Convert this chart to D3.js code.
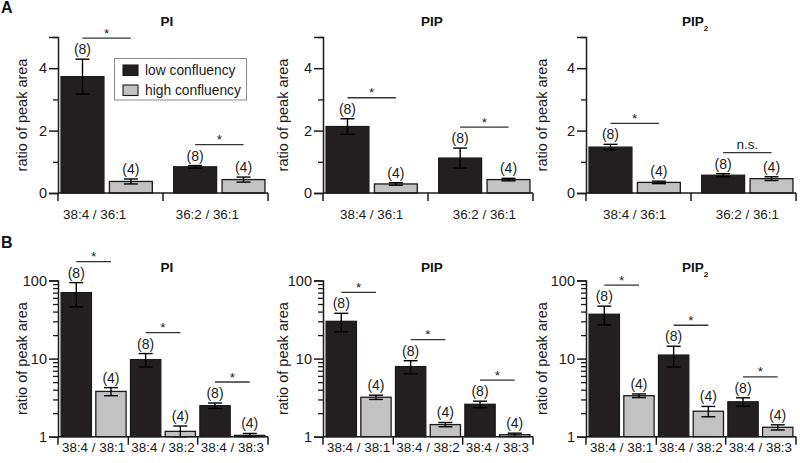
<!DOCTYPE html>
<html>
<head>
<meta charset="utf-8">
<script src="https://cdn.jsdelivr.net/npm/d3@7"></script>
<style>
  html,body{margin:0;padding:0;background:#fff;}
  svg{display:block;font-family:"Liberation Sans",Arial,Helvetica,sans-serif;}
</style>
</head>
<body>
<svg id="chart" width="800" height="463"></svg>
<script>
// ---------------- data ----------------
const panelTitles = ["PI", "PIP", "PIP2"];
const seriesNames = ["low confluency", "high confluency"];
const nLabels = ["(8)", "(4)"];

const categoriesA = ["38:4 / 36:1", "36:2 / 36:1"];
const categoriesB = ["38:4 / 38:1", "38:4 / 38:2", "38:4 / 38:3"];

// Panel A (linear) — mean and error, per lipid class
const lowA     = [[3.73, 0.84], [2.13, 1.12], [1.47, 0.57]];
const lowErrA  = [[0.56, 0.04], [0.25, 0.32], [0.09, 0.05]];
const highA    = [[0.37, 0.43], [0.29, 0.43], [0.34, 0.46]];
const highErrA = [[0.08, 0.08], [0.04, 0.04], [0.04, 0.06]];
const sigA     = [["*", "*"], ["*", "*"], ["*", "n.s."]];
const ticksA   = [0, 1, 2, 3, 4, 5];
const tickLabelsA = [0, 2, 4];

// Panel B (log)
const lowB     = [[70, 9.7, 2.5], [30, 7.9, 2.6], [37, 11.1, 2.8]];
const lowErrB  = [[24, 1.9, 0.2], [8, 1.5, 0.25], [10, 3.3, 0.35]];
const highB    = [[3.8, 1.17, 1.04], [3.2, 1.43, 1.06], [3.35, 2.12, 1.32]];
const highErrB = [[0.45, 0.2, 0.06], [0.2, 0.09, 0.05], [0.18, 0.32, 0.1]];
const sigB     = [["*", "*", "*"], ["*", "*", "*"], ["*", "*", "*"]];
const majorTicksB = [1, 10, 100];
const minorTicksB = [2,3,4,5,6,7,8,9,20,30,40,50,60,70,80,90];

// ---------------- layout / style ----------------
const svg = d3.select("#chart");
const colLeft = [58, 323, 586];
const plotW = 210;
const ylabOffset = [31, 35, 39];
const colors = ["#231f20", "#c2c2c2"];
const ink = "#1a1a1a";
const FONT = 14.5;
const XFONT = 13.4;

function drawPanel(opts) {
  const {col, top, bottom, y, cats, low, lowErr, high, highErr, sig,
         groupPadInner, groupPadOuter, subPad, titleY, xLabelY, xLabelShift, legend} = opts;
  const left = colLeft[col];
  const g = svg.append("g");

  const x0 = d3.scaleBand().domain(cats).range([left, left + plotW])
               .paddingInner(groupPadInner).paddingOuter(groupPadOuter);
  const x1 = d3.scaleBand().domain(seriesNames).range([0, x0.bandwidth()])
               .paddingInner(subPad).paddingOuter(0);

  const rows = [];
  cats.forEach((c, i) => {
    rows.push({cat: c, s: 0, v: low[i], e: lowErr[i]});
    rows.push({cat: c, s: 1, v: high[i], e: highErr[i]});
  });
  const bx = d => x0(d.cat) + x1(seriesNames[d.s]);
  const bc = d => bx(d) + x1.bandwidth() / 2;

  // bars
  g.selectAll("rect.bar").data(rows).join("rect")
    .attr("class", "bar")
    .attr("x", bx)
    .attr("width", x1.bandwidth())
    .attr("y", d => y(d.v))
    .attr("height", d => y.range()[0] - y(d.v))
    .attr("fill", d => colors[d.s])
    .attr("stroke", ink).attr("stroke-width", 1.3);

  // error bars
  const cap = 7;
  const eg = g.selectAll("g.err").data(rows).join("g").attr("class", "err")
    .attr("stroke", "#000").attr("stroke-width", 1.4);
  eg.append("line").attr("x1", bc).attr("x2", bc)
    .attr("y1", d => y(d.v - d.e)).attr("y2", d => y(d.v + d.e));
  eg.append("line").attr("x1", d => bc(d) - cap).attr("x2", d => bc(d) + cap)
    .attr("y1", d => y(d.v + d.e)).attr("y2", d => y(d.v + d.e));
  eg.append("line").attr("x1", d => bc(d) - cap).attr("x2", d => bc(d) + cap)
    .attr("y1", d => y(d.v - d.e)).attr("y2", d => y(d.v - d.e));

  // n labels
  g.selectAll("text.n").data(rows).join("text").attr("class", "n")
    .attr("x", bc).attr("y", d => y(d.v + d.e) - 5)
    .attr("text-anchor", "middle").attr("font-size", 14).attr("fill", ink)
    .text(d => nLabels[d.s]);

  // significance lines
  cats.forEach((c, i) => {
    const top1 = Math.max(low[i] + lowErr[i], high[i] + highErr[i]);
    const ly = y(top1) - 21;
    const xa = x0(c) + x1(seriesNames[0]) + x1.bandwidth() / 2;
    const xb = x0(c) + x1(seriesNames[1]) + x1.bandwidth() / 2;
    g.append("line").attr("x1", xa).attr("x2", xb).attr("y1", ly).attr("y2", ly)
      .attr("stroke", "#333").attr("stroke-width", 1.3);
    const isStar = sig[i] === "*";
    g.append("text").attr("x", (xa + xb) / 2).attr("y", isStar ? ly - 0.5 : ly - 3.5)
      .attr("text-anchor", "middle").attr("font-size", 13.5)
      .attr("fill", ink).text(sig[i]);
  });

  // x axis: baseline + separator ticks
  const y0 = y.range()[0];
  const seps = [left];
  cats.forEach((c, i) => {
    if (i < cats.length - 1) {
      const endI = x0(c) + x0.bandwidth();
      const startN = x0(cats[i + 1]);
      seps.push((endI + startN) / 2);
    }
  });
  seps.push(left + plotW);
  g.append("line").attr("x1", left).attr("x2", left + plotW)
    .attr("y1", y0).attr("y2", y0).attr("stroke", ink).attr("stroke-width", 1.5);
  g.selectAll("line.sep").data(seps).join("line").attr("class", "sep")
    .attr("x1", d => d).attr("x2", d => d).attr("y1", y0).attr("y2", y0 + 8)
    .attr("stroke", ink).attr("stroke-width", 1.5);
  const xAx = d3.axisBottom(x0).tickSize(0).tickPadding(0);
  const xg = g.append("g").attr("transform", `translate(${xLabelShift || 0},${xLabelY})`).call(xAx);
  xg.select(".domain").remove();
  xg.selectAll("text").attr("font-size", XFONT).attr("fill", ink)
    .attr("font-family", null).attr("dy", 0);

  // y axis
  const ymaj = g.append("g").attr("transform", `translate(${left},0)`)
    .call(opts.majorAxis(d3.axisLeft(y)).tickSize(9).tickPadding(2));
  ymaj.select(".domain").attr("stroke", ink).attr("stroke-width", 1.5);
  ymaj.selectAll(".tick line").attr("stroke", ink).attr("stroke-width", 1.5);
  ymaj.selectAll("text").attr("font-size", FONT).attr("fill", ink).attr("font-family", null);
  const ymin = g.append("g").attr("transform", `translate(${left},0)`)
    .call(opts.minorAxis(d3.axisLeft(y)).tickSize(5).tickFormat(""));
  ymin.select(".domain").remove();
  ymin.selectAll(".tick line").attr("stroke", ink).attr("stroke-width", 1.3);

  // y label
  g.append("text")
    .attr("transform", `translate(${left - ylabOffset[col]},${(top + bottom) / 2}) rotate(-90)`)
    .attr("text-anchor", "middle").attr("font-size", FONT).attr("fill", ink)
    .text("ratio of peak area");

  // title
  const t = g.append("text").attr("x", left + plotW / 2 + 4).attr("y", titleY)
    .attr("text-anchor", "middle").attr("font-size", 13.5).attr("font-weight", "bold").attr("fill", "#111");
  const title = panelTitles[col];
  if (title === "PIP2") {
    t.append("tspan").text("PIP");
    t.append("tspan").attr("font-size", 8).attr("dy", 5).text("2");
  } else {
    t.text(title);
  }

  // legend
  if (legend) {
    const lg = g.append("g");
    lg.append("rect").attr("x", 114.5).attr("y", 58.5).attr("width", 132).attr("height", 41.5)
      .attr("fill", "#fff").attr("stroke", "#8a8a8a").attr("stroke-width", 1);
    seriesNames.forEach((s, i) => {
      lg.append("rect").attr("x", 123).attr("y", 65 + i * 20).attr("width", 15).attr("height", 10.5)
        .attr("fill", colors[i]).attr("stroke", ink).attr("stroke-width", 1.1);
      lg.append("text").attr("x", 145).attr("y", 74.8 + i * 19.7)
        .attr("font-size", 13.8).attr("fill", ink).text(s);
    });
  }
}

// Panel A
[0, 1, 2].forEach(col => {
  const y = d3.scaleLinear().domain([0, 5]).range([193, 37]);
  drawPanel({
    col, top: 37, bottom: 193, y, cats: categoriesA,
    low: lowA[col], lowErr: lowErrA[col], high: highA[col], highErr: highErrA[col],
    sig: sigA[col], groupPadInner: 0.19, groupPadOuter: 0.027, subPad: 0.114,
    titleY: 25.5, xLabelY: 218.5, xLabelShift: col === 0 ? -12 : 0, legend: col === 0,
    majorAxis: a => a.tickValues(tickLabelsA).tickFormat(d3.format("d")),
    minorAxis: a => a.tickValues(ticksA.filter(v => !tickLabelsA.includes(v)))
  });
});

// Panel B
[0, 1, 2].forEach(col => {
  const y = d3.scaleLog().domain([1, 100]).range([436.7, 280.5]).clamp(true);
  drawPanel({
    col, top: 280.5, bottom: 436.7, y, cats: categoriesB,
    low: lowB[col], lowErr: lowErrB[col], high: highB[col], highErr: highErrB[col],
    sig: sigB[col], groupPadInner: 0.063, groupPadOuter: 0.045, subPad: 0.127,
    titleY: 272, xLabelY: 451.5, xLabelShift: 0, legend: false,
    majorAxis: a => a.tickValues(majorTicksB).tickFormat(d3.format("d")),
    minorAxis: a => a.tickValues(minorTicksB)
  });
});

// panel letters
svg.append("text").attr("x", 1).attr("y", 13).attr("font-size", 16).attr("font-weight", "bold").attr("fill", "#111").text("A");
svg.append("text").attr("x", 1).attr("y", 248).attr("font-size", 16).attr("font-weight", "bold").attr("fill", "#111").text("B");
</script>
</body>
</html>
